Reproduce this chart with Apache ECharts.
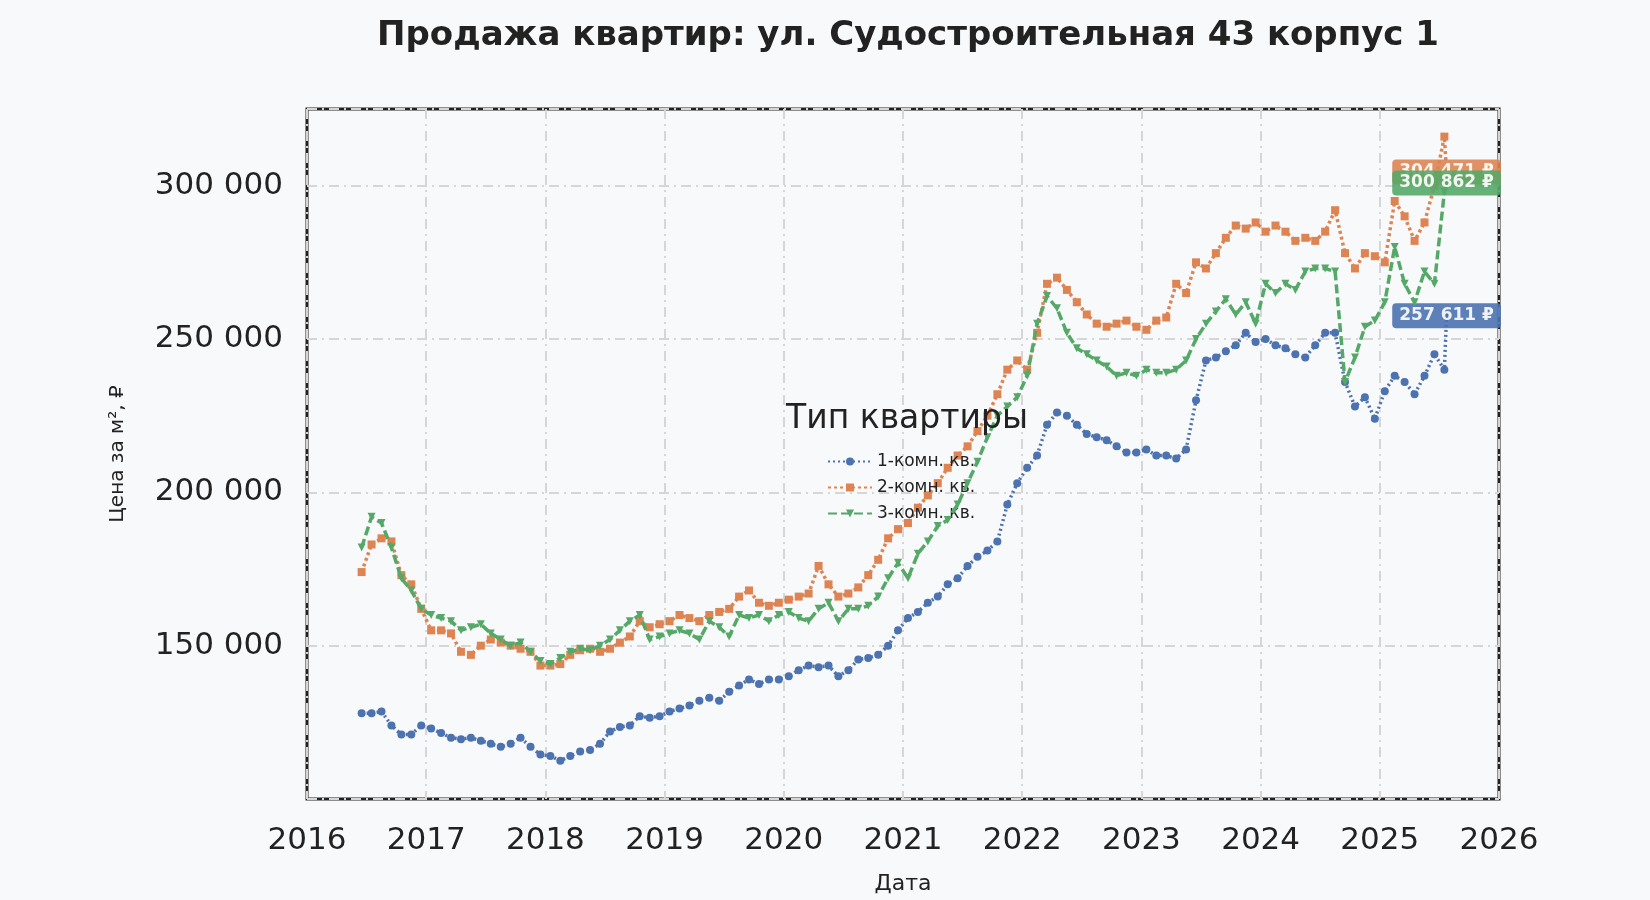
<!DOCTYPE html>
<html><head><meta charset="utf-8">
<script src="https://cdn.jsdelivr.net/npm/echarts@6/dist/echarts.min.js"></script>
<style>html,body{margin:0;background:#f8f9fb}#c{width:1650px;height:900px}</style>
</head><body><div id="c"></div>
<script>
const months = [];
for (let y = 2016; y <= 2025; y++) for (let m = 1; m <= 12; m++) {
  if ((y === 2016 && m < 6) || (y === 2025 && m > 7)) continue;
  months.push(+(y + (m - 0.5) / 12).toFixed(4));
}
const endDate = 2025.56;
const room1 = [128000,128000,128500,124000,121000,121000,124000,
123000,121500,120000,119500,120000,119000,118000,117000,118000,120000,117000,114500,
114000,112500,114000,115500,116000,118000,122000,123500,124000,127000,126500,127000,
128500,129500,130500,132000,133000,132000,135000,137000,139000,137500,139000,139000,
140000,142000,143500,143000,143500,140000,142000,145500,146000,147000,150000,155000,
159000,161000,164000,166000,170000,172000,176000,179000,181000,184000,196000,203000,
208000,212000,222000,226000,225000,222000,219000,218000,217000,215000,213000,213000,
214000,212000,212000,211000,214000,230000,243000,244000,246000,248000,252000,249000,
250000,248000,247000,245000,244000,248000,252000,252000,236000,228000,231000,224000,
233000,238000,236000,232000,238000,245000,240000];
const room2 = [174000,183000,185000,184000,173000,170000,162000,
155000,155000,154000,148000,147000,150000,152000,151000,150000,149000,148000,143500,
143500,144000,147000,148500,149000,148000,149000,151000,153000,158000,156000,157000,
158000,160000,159000,158000,160000,161000,162000,166000,168000,164000,163000,164000,
165000,166000,167000,176000,170000,166000,167000,169000,173000,178000,185000,188000,
190000,195000,199000,203000,208000,212000,215000,220000,225000,232000,240000,243000,
240000,252000,268000,270000,266000,262000,258000,255000,254000,255000,256000,254000,
253000,256000,257000,268000,265000,275000,273000,278000,283000,287000,286000,288000,
285000,287000,285000,282000,283000,282000,285000,292000,278000,273000,278000,277000,
275000,295000,290000,282000,288000,300000,316000];
const room3 = [182000,192000,190000,182000,172000,168000,162000,
160000,159000,158000,155000,156000,157000,154000,152000,150000,151000,148000,145000,
144000,146000,148000,149000,148500,150000,152000,155000,158000,160000,152000,153000,
154000,155000,154000,152000,158000,156000,153000,160000,159000,160000,158000,160000,
161000,159000,158000,162000,164000,158000,162000,162000,163000,166000,172000,177000,
172000,180000,184000,189000,191000,196000,203000,210000,218000,225000,228000,231000,
238000,255000,264000,260000,252000,247000,245000,243000,241000,238000,239000,238000,
240000,239000,239000,240000,243000,250000,255000,259000,263000,258000,262000,255000,
268000,265000,268000,266000,272000,273000,273000,272000,236000,244000,254000,256000,
262000,280000,268000,262000,272000,268000,298000];
const lastVals = [257611, 304471, 300862];
const names = ['1-комн. кв.', '2-комн. кв.', '3-комн. кв.'];
const colors = ['#4c72b0', '#dd8452', '#55a868'];
const symbols = ['circle', 'rect', 'triangle'];
const lineTypes = [[2,3], [3,3], [9,4]];
const fmt = v => Math.round(v).toString().replace(/\B(?=(\d{3})+(?!\d))/g, ' ');

const chart = echarts.init(document.getElementById('c'));
const series = [room1, room2, room3].map((arr, i) => {
  const data = arr.map((v, k) => [months[k], v]);
  data.push({value: [endDate, lastVals[i]], symbolSize: 7, label: {
    show: true, position: 'inside', formatter: fmt(lastVals[i]) + ' ₽',
    backgroundColor: colors[i], color: '#fff', fontWeight: 'bold', fontSize: 17,
    padding: [4, 7], borderRadius: 4, opacity: 0.9,
    fontFamily: 'DejaVu Sans'
  }});
  return {
    name: names[i], type: 'line', data, z: 3 + (i === 2 ? 1 : 0),
    symbol: symbols[i], symbolRotate: i === 2 ? 180 : 0, symbolSize: 8,
    itemStyle: {color: colors[i]},
    lineStyle: {color: colors[i], width: 3.5, type: lineTypes[i]}
  };
});

chart.setOption({
  backgroundColor: '#f8f9fb',
  animation: false,
  textStyle: {fontFamily: 'DejaVu Sans'},
  title: [
    {text: 'Продажа квартир: ул. Судостроительная 43 корпус 1', left: 903, top: 14, textAlign: 'center',
     textStyle: {fontSize: 34, fontWeight: 'bold', color: '#222', fontFamily: 'DejaVu Sans'}},
    {text: 'Тип квартиры', left: 902, top: 398, textAlign: 'center',
     textStyle: {fontSize: 33, fontWeight: 'normal', color: '#222', fontFamily: 'DejaVu Sans'}}
  ],
  legend: {
    left: 822, top: 448, orient: 'vertical', itemGap: 9, itemWidth: 44, itemHeight: 10,
    textStyle: {fontSize: 17, color: '#222'}, data: names
  },
  grid: {left: 307, right: 151, top: 109, bottom: 68, show: true, borderColor: '#222', borderWidth: 3, backgroundColor: '#f8f9fa'},
  xAxis: {
    type: 'value', min: 2016, max: 2026, interval: 1,
    name: 'Дата', nameLocation: 'middle', nameGap: 74, nameTextStyle: {fontSize: 22, color: '#222'},
    axisLabel: {formatter: v => String(Math.round(v)), fontSize: 31, color: '#222', margin: 26},
    axisLine: {show: false}, axisTick: {show: false},
    splitLine: {show: true, lineStyle: {color: '#d6d6d6', width: 2, type: [10,5,2,5]}}
  },
  yAxis: {
    type: 'value', min: 100000, max: 325000, interval: 50000,
    name: 'Цена за м², ₽', nameLocation: 'middle', nameGap: 179, nameTextStyle: {fontSize: 20, color: '#222'},
    axisLabel: {formatter: fmt, fontSize: 31, color: '#222', margin: 24, showMinLabel: false, showMaxLabel: false},
    axisLine: {show: false}, axisTick: {show: false},
    splitLine: {lineStyle: {color: '#d6d6d6', width: 2, type: [10,5,2,5]}}
  },
  series
});
</script></body></html>
